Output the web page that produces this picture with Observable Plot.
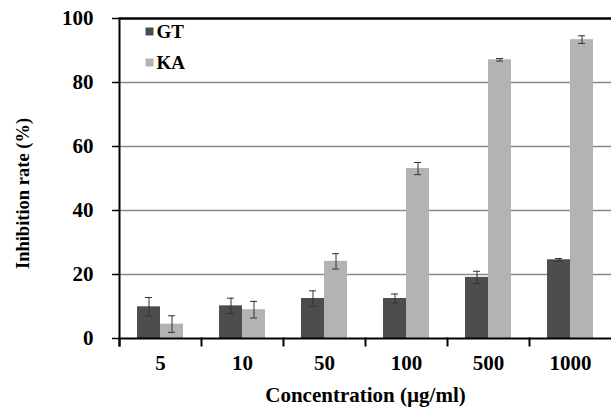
<!DOCTYPE html>
<html>
<head>
<meta charset="utf-8">
<script src="https://cdn.jsdelivr.net/npm/d3@7"></script>
<script src="https://cdn.jsdelivr.net/npm/@observablehq/plot@0.6"></script>
<style>
  html, body { margin: 0; padding: 0; background: #fff; }
  #chart svg text { font-family: "Liberation Serif", "DejaVu Serif", serif; font-weight: bold; }
</style>
</head>
<body>
<div id="chart"></div>
<script>
const concentrations = ["5", "10", "50", "100", "500", "1000"];
const series = ["GT", "KA"];
const gtValues = [9.9, 10.2, 12.5, 12.5, 19.1, 24.6];
const gtErrors = [2.9, 2.4, 2.4, 1.4, 1.9, 0.4];
const kaValues = [4.5, 9.0, 24.1, 53.1, 87.1, 93.4];
const kaErrors = [2.6, 2.6, 2.4, 1.9, 0.4, 1.2];
const yTicks = [0, 20, 40, 60, 80, 100];
const gridValues = [20, 40, 60, 80];
const colors = ["#4d4d4d", "#b3b3b3"];

const data = [];
concentrations.forEach((c, i) => {
  data.push({conc: c, series: "GT", value: gtValues[i], err: gtErrors[i]});
  data.push({conc: c, series: "KA", value: kaValues[i], err: kaErrors[i]});
});

const W = 613, H = 407, mt = 18, mb = 69, ml = 116, mr = 0;
const plotH = H - mt - mb;

const marks = [
  Plot.ruleY(gridValues, {stroke: "#8a8a8a", strokeWidth: 1.5}),
  Plot.ruleY([100], {stroke: "#000", strokeWidth: 2.5}),
  Plot.barY(data, {fx: "conc", x: "series", y: "value", fill: "series"}),
  Plot.ruleX(data, {fx: "conc", x: "series", y1: d => d.value - d.err, y2: d => d.value + d.err, stroke: "#333", strokeWidth: 1}),
  Plot.tickY(data, {fx: "conc", x: "series", y: d => d.value + d.err, stroke: "#333", strokeWidth: 1, insetLeft: 8, insetRight: 8}),
  Plot.tickY(data, {fx: "conc", x: "series", y: d => d.value - d.err, stroke: "#333", strokeWidth: 1, insetLeft: 8, insetRight: 8}),
  Plot.ruleY([0], {stroke: "#000", strokeWidth: 2}),
  Plot.frame({anchor: "left", insetTop: plotH, insetBottom: -7, stroke: "#000", strokeWidth: 2}),
  Plot.frame({anchor: "left", facetAnchor: "left", insetBottom: -7, stroke: "#000", strokeWidth: 2}),
  Plot.axisY({ticks: yTicks, tickSize: 7, tickPadding: 19, label: null, strokeWidth: 1.5, fontSize: 21, facetAnchor: "left"}),
  Plot.axisFx({anchor: "bottom", tickSize: 0, tickPadding: 17, fontSize: 21, label: null}),
  Plot.axisFx({anchor: "bottom", ticks: [], tickSize: 0, fontSize: 21, label: "Concentration (µg/ml)", labelAnchor: "center", labelOffset: 63}),
  Plot.text(["Inhibition rate (%)"], {fx: () => concentrations[0], frameAnchor: "left", rotate: -90, dx: -96, dy: 15, textAnchor: "middle", text: d => d, fill: "#000", fontSize: 18.5})
];
series.forEach((s, i) => {
  marks.push(Plot.dot([s], {fx: () => concentrations[0], frameAnchor: "top-left", dx: 30, dy: 13 + i * 31, symbol: "square", r: 4.5, fill: d => d, stroke: null}));
  marks.push(Plot.text([s], {fx: () => concentrations[0], frameAnchor: "top-left", dx: 37, dy: 13 + i * 31, lineAnchor: "middle", text: d => d, textAnchor: "start", fill: "#000", fontSize: 19}));
});

const chart = Plot.plot({
  width: W,
  height: H,
  marginTop: mt,
  marginBottom: mb,
  marginLeft: ml,
  marginRight: mr,
  style: {fontFamily: "Liberation Serif, DejaVu Serif, serif", fontWeight: "bold", fontSize: "19px", color: "#000", background: "#fff", overflow: "visible"},
  fx: {domain: concentrations, paddingInner: 0, paddingOuter: 0, label: null},
  x: {domain: series, paddingInner: 0, paddingOuter: 0.73, axis: null},
  y: {domain: [0, 100], axis: null},
  color: {domain: series, range: colors},
  marks
});
document.getElementById("chart").appendChild(chart);
</script>
</body>
</html>
